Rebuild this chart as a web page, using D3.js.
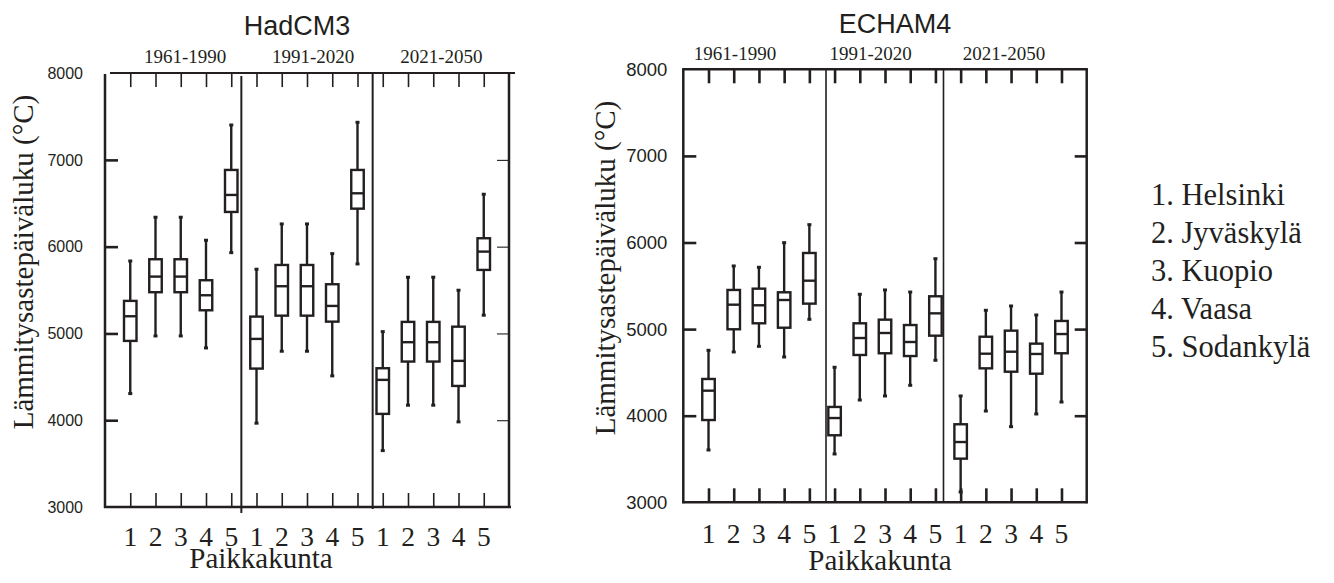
<!DOCTYPE html>
<html>
<head>
<meta charset="utf-8">
<script src="https://cdn.jsdelivr.net/npm/d3@7"></script>
<style>
  html, body { margin: 0; padding: 0; background: #fff; }
  svg { display: block; }
</style>
</head>
<body>
<svg id="chart" width="1334" height="583"></svg>
<script>
// Station numbers along the x axis and the three 30-year periods
const categories = ["1", "2", "3", "4", "5"];
const periods = ["1961-1990", "1991-2020", "2021-2050"];
const stations = ["1. Helsinki", "2. Jyväskylä", "3. Kuopio", "4. Vaasa", "5. Sodankylä"];
const yTicks = [3000, 4000, 5000, 6000, 7000, 8000];

// HadCM3: degree-day sums, five stations per period (1961-1990, 1991-2020, 2021-2050)
const hadcm3Max    = [5835, 6339, 6339, 6074, 7402, 5740, 6262, 6262, 5920, 7433, 5021, 5648, 5648, 5498, 6604];
const hadcm3Q3     = [5375, 5855, 5855, 5613, 6884, 5194, 5789, 5789, 5567, 6884, 4599, 5133, 5133, 5078, 6097];
const hadcm3Median = [5198, 5655, 5655, 5440, 6596, 4937, 5544, 5544, 5317, 6615, 4465, 4899, 4899, 4684, 5943];
const hadcm3Q1     = [4914, 5475, 5475, 5267, 6400, 4595, 5205, 5205, 5136, 6438, 4073, 4676, 4676, 4395, 5732];
const hadcm3Min    = [4307, 4971, 4971, 4833, 5931, 3966, 4795, 4795, 4511, 5801, 3650, 4173, 4173, 3981, 5210];

// ECHAM4
const echam4Max    = [4755, 5729, 5714, 5998, 6206, 4559, 5402, 5452, 5428, 5813, 4228, 5217, 5267, 5163, 5428];
const echam4Q3     = [4424, 5452, 5467, 5425, 5879, 4101, 5067, 5109, 5047, 5379, 3901, 4912, 4982, 4832, 5094];
const echam4Median = [4289, 5282, 5275, 5336, 5559, 3973, 4897, 4955, 4851, 5182, 3696, 4716, 4739, 4713, 4943];
const echam4Q1     = [3950, 4998, 5067, 5016, 5294, 3774, 4701, 4721, 4689, 4924, 3504, 4547, 4508, 4485, 4721];
const echam4Min    = [3604, 4736, 4801, 4678, 5113, 3558, 4181, 4228, 4351, 4640, 3119, 4054, 3873, 4020, 4158];

const INK = "#231f20";
const SANS = "'Liberation Sans', Arial, sans-serif";
const SERIF = "'Liberation Serif', 'Times New Roman', serif";

function toBoxes(mins, q1s, meds, q3s, maxs) {
  return mins.map((d, i) => ({
    slot: i + 1,
    min: d, q1: q1s[i], median: meds[i], q3: q3s[i], max: maxs[i]
  }));
}

const panels = [
  {
    title: "HadCM3",
    boxes: toBoxes(hadcm3Min, hadcm3Q1, hadcm3Median, hadcm3Q3, hadcm3Max),
    layout: {
      x0: 105, x1: 509, yTop: 73.1, yBottom: 507,
      titleX: 297, titleY: 35,
      periodSlots: [3.17, 8.24, 13.32], periodY: 63,
      dividers: [5.4, 10.6], dividerWidth: 2,
      tickFont: 16, tickPad: 22,
      edgeTickWidth: 1.6, leftTickWidth: 2.6, rightTickWidth: 1.1,
      yLabelX: 33, yLabelY: 262,
      catY: 546, xLabelX: 261, xLabelY: 568
    }
  },
  {
    title: "ECHAM4",
    boxes: toBoxes(echam4Min, echam4Q1, echam4Median, echam4Q3, echam4Max),
    layout: {
      x0: 683.3, x1: 1086.7, yTop: 69.3, yBottom: 502.3,
      titleX: 895, titleY: 33,
      periodSlots: [2.05, 7.43, 12.72], periodY: 60,
      dividers: [5.66, 10.32], dividerWidth: 1.6,
      tickFont: 18.5, tickPad: 16,
      edgeTickWidth: 2.6, leftTickWidth: 2.6, rightTickWidth: 2.6,
      yLabelX: 615, yLabelY: 268,
      catY: 543, xLabelX: 880, xLabelY: 570
    }
  }
];

const svg = d3.select("#chart");
svg.append("rect").attr("width", 1334).attr("height", 583).attr("fill", "#fff");

panels.forEach(panel => {
  const L = panel.layout;
  const g = svg.append("g");

  const x = d3.scaleLinear().domain([0, 16]).range([L.x0, L.x1]);
  const y = d3.scaleLinear().domain([3000, 8000]).range([L.yBottom, L.yTop]);
  const slots = d3.range(1, 16);

  // Left value axis with inward ticks
  const yLeft = g.append("g")
    .attr("transform", `translate(${L.x0},0)`)
    .call(d3.axisLeft(y).tickValues(yTicks).tickFormat(d3.format("d")).tickSize(-13).tickPadding(L.tickPad));
  yLeft.select(".domain").remove();
  yLeft.selectAll(".tick line").attr("stroke", INK).attr("stroke-width", L.leftTickWidth);
  yLeft.selectAll(".tick text").attr("fill", INK).style("font-family", SANS).style("font-size", L.tickFont + "px");
  yLeft.selectAll(".tick").filter(d => d === 3000 || d === 8000).select("line").remove();

  // Right value axis, ticks only
  const yRight = g.append("g")
    .attr("transform", `translate(${L.x1},0)`)
    .call(d3.axisRight(y).tickValues(yTicks.filter(d => d > 3000 && d < 8000)).tickFormat("").tickSize(-12));
  yRight.select(".domain").remove();
  yRight.selectAll(".tick line").attr("stroke", INK).attr("stroke-width", L.rightTickWidth);

  // Top and bottom station ticks
  const xTop = g.append("g")
    .attr("transform", `translate(0,${L.yTop})`)
    .call(d3.axisTop(x).tickValues(slots).tickFormat("").tickSize(-14));
  xTop.select(".domain").remove();
  xTop.selectAll(".tick line").attr("stroke", INK).attr("stroke-width", L.edgeTickWidth);

  const xBottom = g.append("g")
    .attr("transform", `translate(0,${L.yBottom})`)
    .call(d3.axisBottom(x).tickValues(slots).tickFormat("").tickSize(-14));
  xBottom.select(".domain").remove();
  xBottom.selectAll(".tick line").attr("stroke", INK).attr("stroke-width", L.edgeTickWidth);

  // Frame
  const frame = g.append("g").attr("stroke", INK).attr("stroke-width", 2.5).attr("fill", "none");
  const isLeft = panel.title === "HadCM3";
  frame.append("line").attr("x1", x(0) + (isLeft ? 5 : -1)).attr("x2", x(16) + (isLeft ? 6 : 1))
    .attr("y1", y(8000)).attr("y2", y(8000)).attr("stroke-width", isLeft ? 2 : 2.5);
  frame.append("line").attr("x1", x(0) - 1).attr("x2", x(16) + (isLeft ? 2 : 1))
    .attr("y1", y(3000)).attr("y2", y(3000));
  frame.append("line").attr("x1", x(0)).attr("x2", x(0))
    .attr("y1", y(8000) + (isLeft ? 1 : -1)).attr("y2", y(3000) + 1);
  frame.append("line").attr("x1", x(16)).attr("x2", x(16))
    .attr("y1", y(8000) - 1).attr("y2", y(3000) + 1);

  // Period dividers
  g.append("g").selectAll("line").data(L.dividers).join("line")
    .attr("x1", d => x(d)).attr("x2", d => x(d))
    .attr("y1", (d, i) => y(8000) + (isLeft && i === 0 ? 3 : 0))
    .attr("y2", (d, i) => y(3000) + (isLeft ? (i === 0 ? 6 : 2) : 0))
    .attr("stroke", INK).attr("stroke-width", L.dividerWidth);

  // Box plots
  const bw = 12.5;
  const box = g.append("g").selectAll("g").data(panel.boxes).join("g")
    .attr("stroke", INK).attr("stroke-width", 2.4).attr("fill", "none");
  box.append("line")
    .attr("x1", d => x(d.slot)).attr("x2", d => x(d.slot))
    .attr("y1", d => y(d.max)).attr("y2", d => y(d.q3));
  box.append("line")
    .attr("x1", d => x(d.slot)).attr("x2", d => x(d.slot))
    .attr("y1", d => y(d.q1)).attr("y2", d => y(d.min));
  box.append("rect")
    .attr("x", d => x(d.slot) - bw / 2).attr("width", bw)
    .attr("y", d => y(d.q3)).attr("height", d => y(d.q1) - y(d.q3))
    .attr("fill", "#fff");
  box.append("line")
    .attr("x1", d => x(d.slot) - bw / 2).attr("x2", d => x(d.slot) + bw / 2)
    .attr("y1", d => y(d.median)).attr("y2", d => y(d.median));
  ["max", "min"].forEach(k => {
    box.append("line")
      .attr("x1", d => x(d.slot) - 2).attr("x2", d => x(d.slot) + 2)
      .attr("y1", d => y(d[k])).attr("y2", d => y(d[k]))
      .attr("stroke-width", 3);
  });

  // Title and period headers
  g.append("text").text(panel.title)
    .attr("x", L.titleX).attr("y", L.titleY).attr("text-anchor", "middle")
    .style("font-family", SANS).style("font-size", "27px").attr("fill", INK);
  g.append("g").selectAll("text").data(periods).join("text")
    .text(d => d)
    .attr("x", (d, i) => x(L.periodSlots[i])).attr("y", L.periodY)
    .attr("text-anchor", "middle")
    .style("font-family", SERIF).style("font-size", "19px").attr("fill", INK);

  // Station numbers under the plot
  g.append("g").selectAll("text").data(slots).join("text")
    .text((d, i) => categories[i % categories.length])
    .attr("x", d => x(d)).attr("y", L.catY).attr("text-anchor", "middle")
    .style("font-family", SERIF).style("font-size", "27.5px").attr("fill", INK);

  // Axis titles
  g.append("text").text("Paikkakunta")
    .attr("x", L.xLabelX).attr("y", L.xLabelY).attr("text-anchor", "middle")
    .style("font-family", SERIF).style("font-size", "29px").attr("fill", INK);
  g.append("text").text("Lämmitysastepäiväluku (°C)")
    .attr("transform", `translate(${L.yLabelX},${L.yLabelY}) rotate(-90)`)
    .attr("text-anchor", "middle")
    .style("font-family", SERIF).style("font-size", "29px").attr("fill", INK);
});

// Station legend
svg.append("g").selectAll("text").data(stations).join("text")
  .text(d => d)
  .attr("x", 1151).attr("y", (d, i) => 205 + i * 38)
  .style("font-family", SERIF).style("font-size", "30.5px").attr("fill", INK);
</script>
</body>
</html>
